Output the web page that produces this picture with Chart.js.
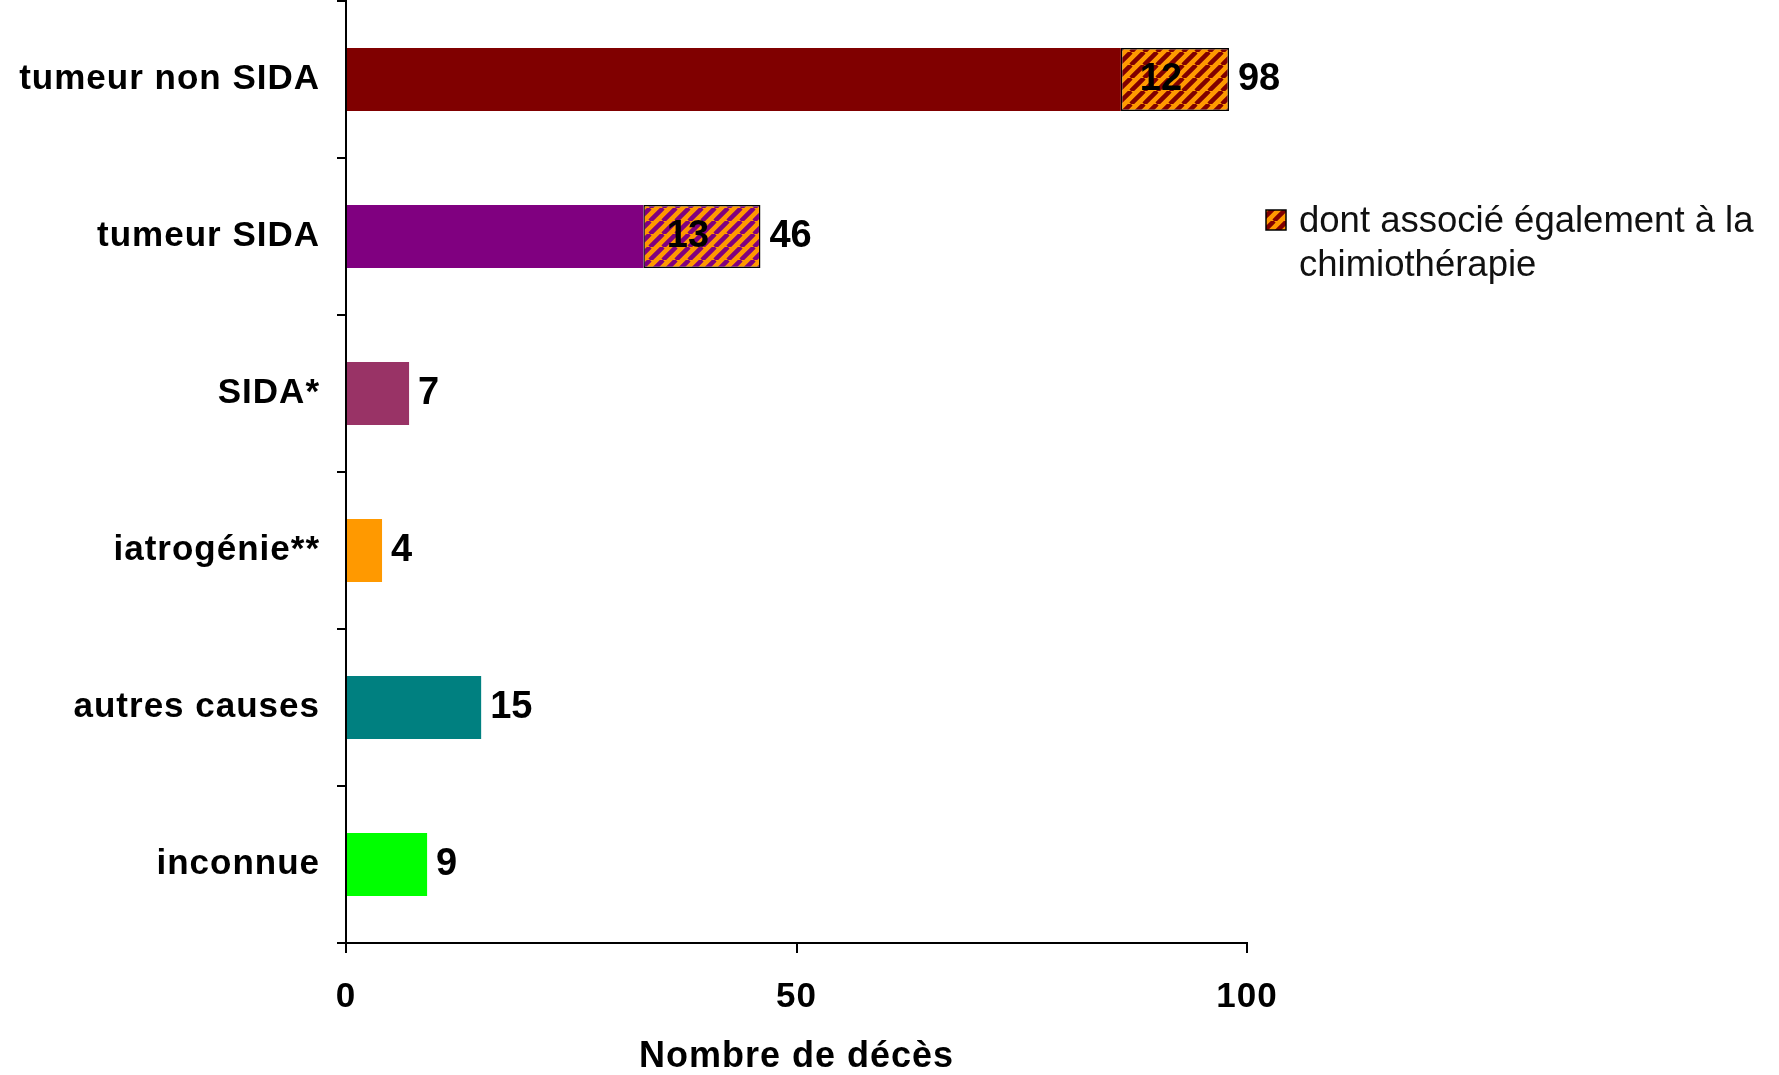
<!DOCTYPE html>
<html>
<head>
<meta charset="utf-8">
<title>Nombre de décès</title>
<script src="https://cdn.jsdelivr.net/npm/chart.js@4.4.1/dist/chart.umd.min.js"></script>
<style>
  html, body { margin: 0; padding: 0; background: #fff; }
</style>
</head>
<body>
<canvas id="deaths" width="1779" height="1075"></canvas>
<script>
// causes of death, totals and the part also linked to chemotherapy
const causes = ['tumeur non SIDA', 'tumeur SIDA', 'SIDA*', 'iatrogénie**', 'autres causes', 'inconnue'];
const totalDeaths = [98, 46, 7, 4, 15, 9];
const chemoDeaths = [12, 13, 0, 0, 0, 0];
const causeColors = ['#800000', '#800080', '#993366', '#FF9900', '#008080', '#00FF00'];
const xTicks = [0, 50, 100];
const legendLines = ['dont associé également à la', 'chimiothérapie'];

const otherDeaths = totalDeaths.map((t, i) => t - chemoDeaths[i]);
const FONT = "'Liberation Sans', Arial, sans-serif";

// orange tile crossed by "/" stripes in the cause colour
function hatch(stripe) {
  const size = 13;
  const c = document.createElement('canvas');
  c.width = size; c.height = size;
  const g = c.getContext('2d');
  g.fillStyle = '#FF9900';
  g.fillRect(0, 0, size, size);
  g.strokeStyle = stripe;
  g.lineWidth = 4.5;
  g.beginPath();
  for (let k = -1; k <= 1; k++) {
    g.moveTo(k * size, size);
    g.lineTo(k * size + size, 0);
  }
  g.stroke();
  return g.createPattern(c, 'repeat');
}

// axis labels are slightly spread out
const spacing = {
  id: 'spacing',
  beforeUpdate(chart) { chart.ctx.letterSpacing = '1px'; },
  beforeDraw(chart) { chart.ctx.letterSpacing = '1px'; }
};

const valueLabels = {
  id: 'valueLabels',
  afterDatasetsDraw(chart) {
    const ctx = chart.ctx;
    const xs = chart.scales.x, ys = chart.scales.y;
    ctx.save();
    ctx.letterSpacing = '0px';
    ctx.font = 'bold 38px ' + FONT;
    ctx.fillStyle = '#000';
    ctx.textBaseline = 'middle';
    totalDeaths.forEach((t, i) => {
      const y = ys.getPixelForValue(i);
      ctx.textAlign = 'left';
      ctx.fillText(String(t), xs.getPixelForValue(t) + 9, y);
      if (chemoDeaths[i] > 0) {
        ctx.textAlign = 'center';
        ctx.fillText(String(chemoDeaths[i]), xs.getPixelForValue(t - chemoDeaths[i] / 2) - 14, y);
      }
    });
    ctx.restore();
  }
};

const sideLegend = {
  id: 'sideLegend',
  afterDraw(chart) {
    const ctx = chart.ctx;
    const x = chart.chartArea.right + 19;
    ctx.save();
    ctx.letterSpacing = '0px';
    ctx.fillStyle = hatch('#800000');
    ctx.fillRect(x, 210, 20, 20);
    ctx.strokeStyle = '#000';
    ctx.lineWidth = 1.5;
    ctx.strokeRect(x, 210, 20, 20);
    ctx.font = '36.5px ' + FONT;
    ctx.fillStyle = '#111';
    ctx.textAlign = 'left';
    ctx.textBaseline = 'middle';
    legendLines.forEach((line, i) => ctx.fillText(line, x + 33, 222 + i * 44));
    ctx.restore();
  }
};

const boldFont = size => ({ family: FONT, size: size, weight: 'bold' });

new Chart(document.getElementById('deaths'), {
  type: 'bar',
  data: {
    labels: causes,
    datasets: [
      {
        label: 'décès',
        data: otherDeaths,
        backgroundColor: causeColors,
        borderWidth: 0,
        barPercentage: 0.4,
        categoryPercentage: 1
      },
      {
        label: legendLines.join(' '),
        data: chemoDeaths,
        backgroundColor: causeColors.map(hatch),
        borderColor: '#000',
        borderWidth: chemoDeaths.map(v => v > 0 ? 1.5 : 0),
        borderSkipped: false,
        barPercentage: 0.4,
        categoryPercentage: 1
      }
    ]
  },
  options: {
    indexAxis: 'y',
    responsive: false,
    animation: false,
    devicePixelRatio: 1,
    layout: { padding: { top: 1, right: 532, left: 0, bottom: 0 } },
    plugins: {
      legend: { display: false },
      tooltip: { enabled: false }
    },
    scales: {
      x: {
        stacked: true,
        min: 0,
        max: 100,
        afterBuildTicks: s => { s.ticks = xTicks.map(v => ({ value: v })); },
        grid: { drawOnChartArea: false, tickLength: 10, color: '#000', lineWidth: 2 },
        border: { color: '#000', width: 2 },
        ticks: { font: boldFont(35), color: '#000', padding: 23, maxRotation: 0 },
        title: {
          display: true,
          text: 'Nombre de décès',
          font: boldFont(36),
          color: '#000',
          padding: { top: 0, bottom: -4 }
        },
        afterFit: s => { s.height = 132; }
      },
      y: {
        stacked: true,
        grid: { offset: true, drawOnChartArea: false, tickLength: 9, color: '#000', lineWidth: 2 },
        border: { color: '#000', width: 2 },
        ticks: { font: boldFont(35), color: '#000', padding: 17 },
        afterFit: s => { s.width = 346; s.paddingTop = 0; s.paddingBottom = 0; }
      }
    }
  },
  plugins: [spacing, valueLabels, sideLegend]
});
</script>
</body>
</html>
